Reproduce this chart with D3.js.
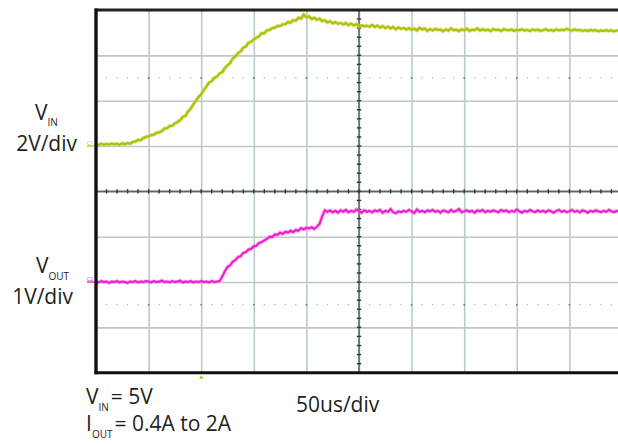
<!DOCTYPE html>
<html>
<head>
<meta charset="utf-8">
<script src="https://cdn.jsdelivr.net/npm/d3@7"></script>
<style>
  html, body { margin: 0; padding: 0; background: #fff; }
  svg { display: block; }
  text { font-family: "Open Sans", "Noto Sans", sans-serif; fill: #231f20; }
</style>
</head>
<body>
<svg id="chart" width="618" height="444"></svg>
<script>
// ---- data ----
// sample times in microseconds (trigger at 0), 2.5 us apart
const timeStartUs = -100;
const timeStepUs = 2.5;

// CH1: V_IN (2 V/div)
const vinVolts = [
  0.08,0.04,0.10,0.05,0.09,0.06,0.11,0.07,0.10,0.05,
  0.12,0.08,0.13,0.10,0.18,0.20,0.27,0.26,0.35,0.40,
  0.42,0.49,0.50,0.58,0.60,0.66,0.77,0.79,0.88,0.90,
  0.99,1.06,1.14,1.28,1.33,1.52,1.64,1.84,2.00,2.16,
  2.28,2.47,2.63,2.80,2.86,3.00,3.06,3.20,3.26,3.44,
  3.55,3.66,3.86,3.95,4.10,4.17,4.34,4.39,4.55,4.60,
  4.70,4.78,4.84,4.98,4.97,5.10,5.12,5.20,5.22,5.30,
  5.29,5.37,5.38,5.47,5.44,5.55,5.53,5.66,5.62,5.80,
  5.68,5.72,5.60,5.66,5.56,5.62,5.51,5.55,5.45,5.50,
  5.41,5.47,5.39,5.43,5.36,5.42,5.33,5.40,5.32,5.38,
  5.26,5.33,5.28,5.31,5.26,5.34,5.25,5.31,5.22,5.29,
  5.20,5.27,5.19,5.25,5.15,5.23,5.17,5.21,5.13,5.20,
  5.12,5.18,5.10,5.22,5.14,5.19,5.08,5.16,5.10,5.17,
  5.12,5.14,5.06,5.15,5.09,5.19,5.11,5.13,5.07,5.15,
  5.10,5.18,5.08,5.13,5.12,5.19,5.09,5.15,5.10,5.14,
  5.07,5.16,5.11,5.13,5.08,5.15,5.12,5.10,5.14,5.08,
  5.13,5.10,5.15,5.09,5.12,5.07,5.14,5.10,5.13,5.08,
  5.11,5.15,5.09,5.12,5.08,5.14,5.10,5.13,5.11,5.17,
  5.12,5.09,5.14,5.10,5.12,5.08,5.11,5.07,5.12,5.09,
  5.11,5.06,5.10,5.08,5.11,5.07,5.10,5.06,5.09,5.11,
  5.07
];

// CH2: V_OUT (1 V/div)
const voutVolts = [
  0.01,-0.01,0.02,0.00,0.01,-0.02,0.01,0.00,0.02,-0.01,
  0.01,0.00,-0.02,0.01,0.00,0.02,-0.01,0.01,0.00,0.02,
  0.01,-0.01,0.02,0.00,0.01,0.03,0.00,0.01,-0.01,0.02,
  0.00,0.01,0.03,-0.01,0.01,0.00,0.02,-0.01,0.01,0.00,
  0.02,0.00,0.01,-0.01,0.02,0.00,0.01,0.02,0.12,0.24,
  0.33,0.37,0.45,0.48,0.55,0.57,0.64,0.66,0.72,0.73,
  0.79,0.80,0.86,0.88,0.92,0.95,1.00,0.99,1.05,1.04,
  1.09,1.06,1.11,1.09,1.13,1.10,1.15,1.13,1.19,1.16,
  1.20,1.18,1.21,1.17,1.22,1.28,1.45,1.58,1.55,1.58,
  1.54,1.57,1.53,1.58,1.55,1.59,1.54,1.57,1.55,1.60,
  1.56,1.53,1.58,1.55,1.57,1.54,1.58,1.56,1.59,1.53,
  1.57,1.55,1.61,1.54,1.52,1.56,1.54,1.57,1.55,1.59,
  1.56,1.52,1.60,1.55,1.57,1.54,1.58,1.56,1.59,1.55,
  1.57,1.53,1.58,1.56,1.54,1.59,1.55,1.57,1.61,1.54,
  1.56,1.58,1.55,1.57,1.53,1.58,1.56,1.59,1.54,1.57,
  1.55,1.58,1.56,1.54,1.59,1.56,1.58,1.54,1.57,1.55,
  1.60,1.56,1.53,1.57,1.55,1.59,1.56,1.54,1.58,1.55,
  1.57,1.54,1.58,1.56,1.53,1.57,1.59,1.55,1.57,1.54,
  1.56,1.59,1.55,1.57,1.54,1.58,1.56,1.53,1.57,1.55,
  1.58,1.56,1.54,1.57,1.55,1.59,1.56,1.54,1.57,1.55,
  1.56
];

// screen settings
const timeDivs = 10, voltDivs = 8;
const timeDomainUs = [-100, 400];      // 50 us/div
const ch1DomainV = [-10, 6];           // 2 V/div
const ch2DomainV = [-2, 6];            // 1 V/div
const dottedDivs = [1.5, 6.5];

const labels = {
  vinSub: "IN", voutSub: "OUT",
  vinScale: "2V/div", voutScale: "1V/div",
  timeScale: "50us/div",
  condVin: "= 5V", condIout: "= 0.4A to 2A"
};

// ---- drawing ----
const svg = d3.select("#chart");
const L = 96, R = 622, T = 10, B = 372.7;

const x = d3.scaleLinear().domain(timeDomainUs).range([L, R]);
const yCh1 = d3.scaleLinear().domain(ch1DomainV).range([B, T]);
const yCh2 = d3.scaleLinear().domain(ch2DomainV).range([B, T]);
const xDiv = d3.scaleLinear().domain([0, timeDivs]).range([L, R]);
const yDiv = d3.scaleLinear().domain([0, voltDivs]).range([T, B]);

const gridColor = "#bdc9c9";

// vertical grid lines via axis
const gx = svg.append("g").attr("transform", `translate(0,${B})`)
  .call(d3.axisBottom(xDiv).tickValues(d3.range(1, timeDivs)).tickSize(-(B - T)).tickFormat(""));
gx.select(".domain").remove();
gx.selectAll("line").attr("stroke", gridColor).attr("stroke-width", 1.6);

// horizontal grid lines via axis
const gy = svg.append("g").attr("transform", `translate(${L},0)`)
  .call(d3.axisLeft(yDiv).tickValues(d3.range(1, voltDivs)).tickSize(-(R - L)).tickFormat(""));
gy.select(".domain").remove();
gy.selectAll("line").attr("stroke", gridColor).attr("stroke-width", 1.6);

// dotted lines
const subX = d3.range(1, timeDivs * 5);
dottedDivs.forEach(d => {
  svg.append("g").selectAll("circle").data(subX).join("circle")
    .attr("cx", k => xDiv(k / 5)).attr("cy", yDiv(d))
    .attr("r", k => k % 5 === 0 ? 0.9 : 0.7)
    .attr("fill", k => k % 5 === 0 ? "#6a7676" : "#a8b2b2");
});

// center cross lines
const cx = xDiv(timeDivs / 2), cy = yDiv(voltDivs / 2);
svg.append("line").attr("x1", L).attr("x2", R).attr("y1", cy).attr("y2", cy)
  .attr("stroke", "#5a6868").attr("stroke-width", 1.6);
svg.append("line").attr("x1", cx).attr("x2", cx).attr("y1", T).attr("y2", B)
  .attr("stroke", "#5a6868").attr("stroke-width", 1.6);
// minor ticks on center lines
svg.append("g").selectAll("line").data(subX).join("line")
  .attr("x1", k => xDiv(k / 5)).attr("x2", k => xDiv(k / 5))
  .attr("y1", cy - 2.2).attr("y2", cy + 2.2)
  .attr("stroke", "#2e3838").attr("stroke-width", 1.4);
const subY = d3.range(1, voltDivs * 5);
svg.append("g").selectAll("line").data(subY).join("line")
  .attr("y1", k => yDiv(k / 5)).attr("y2", k => yDiv(k / 5))
  .attr("x1", cx - 2.2).attr("x2", cx + 2.2)
  .attr("stroke", "#2e3838").attr("stroke-width", 1.4);

// traces
const t = i => timeStartUs + i * timeStepUs;
const clip = svg.append("clipPath").attr("id", "plotclip")
  .append("rect").attr("x", L).attr("y", T).attr("width", R - L).attr("height", B - T);
const traces = svg.append("g").attr("clip-path", "url(#plotclip)");

const line1 = d3.line().x((d, i) => x(t(i))).y(d => yCh1(d));
const line2 = d3.line().x((d, i) => x(t(i))).y(d => yCh2(d));

traces.append("path").datum(vinVolts).attr("d", line1)
  .attr("fill", "none").attr("stroke", "#d2dc6a").attr("stroke-width", 4).attr("stroke-opacity", 0.6);
traces.append("path").datum(vinVolts).attr("d", line1)
  .attr("fill", "none").attr("stroke", "#afc20a").attr("stroke-width", 2.3);

traces.append("path").datum(voutVolts).attr("d", line2)
  .attr("fill", "none").attr("stroke", "#f57ee4").attr("stroke-width", 3.8).attr("stroke-opacity", 0.6);
traces.append("path").datum(voutVolts).attr("d", line2)
  .attr("fill", "none").attr("stroke", "#ee1fcc").attr("stroke-width", 2.1);

// border
svg.append("line").attr("x1", L - 1).attr("x2", R).attr("y1", T).attr("y2", T)
  .attr("stroke", "#222").attr("stroke-width", 3);
svg.append("line").attr("x1", L - 1.5).attr("x2", R).attr("y1", B).attr("y2", B)
  .attr("stroke", "#111").attr("stroke-width", 3);
svg.append("line").attr("x1", L).attr("x2", L).attr("y1", T - 1.5).attr("y2", B + 1.5)
  .attr("stroke", "#111").attr("stroke-width", 3.4);

// channel ground markers
[[yCh1(0), "#b5c80f", "C1"], [yCh2(0), "#ee22cc", "C2"]].forEach(([yy, col, lab]) => {
  svg.append("line").attr("x1", L - 9).attr("x2", L - 2).attr("y1", yy).attr("y2", yy)
    .attr("stroke", col).attr("stroke-width", 1.4);
  svg.append("text").attr("x", L - 9).attr("y", yy - 1.5).text(lab)
    .style("font-size", "5px").style("fill", col);
});

// trigger marker
const tx = x(0);
svg.append("path").attr("d", `M${tx - 2.2},${B + 6} L${tx + 2.2},${B + 6} L${tx},${B + 2.5} Z`)
  .attr("fill", "#b5c80f");

// channel labels: one text element each (V + subscript, then scale line)
function channelLabel(vx, vy, sub, subDy, scaleText, scaleEndX, scaleY) {
  const tEl = svg.append("text").attr("x", vx).attr("y", vy).style("font-size", "21px");
  tEl.append("tspan").text("V");
  tEl.append("tspan").text(sub).attr("dy", subDy).style("font-size", "10px");
  const sl = tEl.append("tspan").text(scaleText).attr("y", scaleY);
  const w = sl.node().getComputedTextLength();
  sl.attr("x", scaleEndX - w);
}
channelLabel(35, 120, labels.vinSub, 5.5, labels.vinScale, 77, 151);
channelLabel(36, 273, labels.voutSub, 6.5, labels.voutScale, 73, 304);

// bottom conditions
function condLabel(xx, yy, main, sub, rest) {
  const tEl = svg.append("text").attr("x", xx).attr("y", yy).style("font-size", "21px");
  tEl.append("tspan").text(main);
  tEl.append("tspan").text(sub).attr("dy", 6.5).style("font-size", "10px");
  tEl.append("tspan").text(rest).attr("dy", -6.5).attr("dx", 2);
}
condLabel(86, 404, "V", labels.vinSub, labels.condVin);
condLabel(86, 431, "I", labels.voutSub, labels.condIout);

svg.append("text").attr("x", 296).attr("y", 411.5).style("font-size", "21px").text(labels.timeScale);
</script>
</body>
</html>
